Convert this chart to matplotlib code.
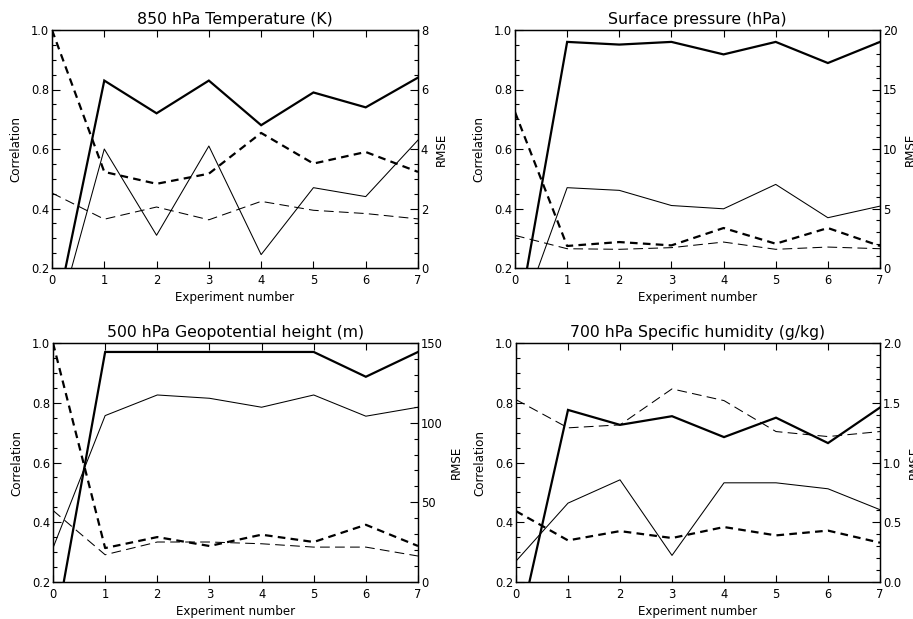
import matplotlib
matplotlib.use("Agg")
import matplotlib.pyplot as plt
from matplotlib.ticker import MultipleLocator, FixedLocator, FixedFormatter

plt.rcParams['font.family'] = ['DejaVu Sans']
plt.rcParams['lines.scale_dashes'] = False

experiments = [0, 1, 2, 3, 4, 5, 6, 7]

titles = ["850 hPa Temperature (K)", "Surface pressure (hPa)",
          "500 hPa Geopotential height (m)", "700 hPa Specific humidity (g/kg)"]

# 850 hPa temperature
t850_corr_thick = [-0.02, 0.83, 0.72, 0.83, 0.68, 0.79, 0.74, 0.84]
t850_corr_thin = [-0.04, 0.60, 0.31, 0.61, 0.245, 0.47, 0.44, 0.63]
t850_rmse_thick = [8.0, 3.23, 2.83, 3.17, 4.54, 3.51, 3.90, 3.23]
t850_rmse_thin = [2.52, 1.64, 2.05, 1.62, 2.24, 1.94, 1.83, 1.65]

# Surface pressure
ps_corr_thick = [-0.03, 0.96, 0.951, 0.96, 0.918, 0.96, 0.889, 0.96]
ps_corr_thin = [-0.015, 0.47, 0.461, 0.41, 0.399, 0.481, 0.369, 0.408]
ps_rmse_thick = [13.1, 1.85, 2.18, 1.90, 3.36, 2.04, 3.36, 1.85]
ps_rmse_thin = [2.74, 1.62, 1.57, 1.71, 2.18, 1.57, 1.76, 1.62]

# 500 hPa geopotential height
z500_corr_thick = [0.0, 0.97, 0.97, 0.97, 0.97, 0.97, 0.887, 0.97]
z500_corr_thin = [0.314, 0.757, 0.826, 0.815, 0.785, 0.826, 0.755, 0.785]
z500_rmse_thick = [150.0, 21.3, 28.2, 22.6, 29.7, 25.1, 35.9, 22.6]
z500_rmse_thin = [44.9, 17.1, 25.1, 25.1, 24.0, 21.9, 21.9, 16.3]

# 700 hPa specific humidity
q700_corr_thick = [0.0, 0.776, 0.726, 0.755, 0.685, 0.75, 0.665, 0.784]
q700_corr_thin = [0.270, 0.464, 0.542, 0.289, 0.532, 0.532, 0.512, 0.442]
q700_rmse_thick = [0.593, 0.348, 0.426, 0.368, 0.46, 0.39, 0.43, 0.329]
q700_rmse_thin = [1.526, 1.29, 1.315, 1.616, 1.518, 1.259, 1.217, 1.259]

corr_ticks = [0.2, 0.4, 0.6, 0.8, 1.0]
corr_ticklabels = ["0.2", "0.4", "0.6", "0.8", "1.0"]

rmse_ticks = [[0, 2, 4, 6, 8], [0, 5, 10, 15, 20], [0, 50, 100, 150], [0.0, 0.5, 1.0, 1.5, 2.0]]
rmse_ticklabels = [["0", "2", "4", "6", "8"], ["0", "5", "10", "15", "20"],
                   ["0", "50", "100", "150"], ["0.0", "0.5", "1.0", "1.5", "2.0"]]
rmse_minor = [0.5, 1, 10, 0.1]

panels = [
    (t850_corr_thick, t850_corr_thin, t850_rmse_thick, t850_rmse_thin),
    (ps_corr_thick, ps_corr_thin, ps_rmse_thick, ps_rmse_thin),
    (z500_corr_thick, z500_corr_thin, z500_rmse_thick, z500_rmse_thin),
    (q700_corr_thick, q700_corr_thin, q700_rmse_thick, q700_rmse_thin),
]

W, H = 913, 619
fig = plt.figure(figsize=(W / 100, H / 100), dpi=100)

# pixel boxes: left, right, top, bottom
boxes = [(52, 418, 30, 268), (515, 880, 30, 268), (53, 418, 343, 582), (516, 880, 343, 582)]

TICK_FS = 8.3
LAB_FS = 8.6
TITLE_FS = 11.3
thick_lw = 1.6
thin_lw = 0.75

for i, (box, data) in enumerate(zip(boxes, panels)):
    l, r, t, b = box
    ax = fig.add_axes([l / W, (H - b) / H, (r - l) / W, (b - t) / H])
    ax2 = ax.twinx()
    ct, cn, rt, rn = data

    ax.plot(experiments, ct, color='black', lw=thick_lw, solid_joinstyle='miter')
    ax.plot(experiments, cn, color='black', lw=thin_lw)
    ax2.plot(experiments, rt, color='black', lw=thick_lw, linestyle=(0, (5.5, 3.8)))
    ax2.plot(experiments, rn, color='black', lw=thin_lw, linestyle=(0, (7.0, 3.8)))

    ax.set_xlim(0, 7)
    ax.set_ylim(0.2, 1.0)
    ax2.set_ylim(rmse_ticks[i][0], rmse_ticks[i][-1])

    ax.xaxis.set_major_locator(FixedLocator(experiments))
    ax.set_xticklabels([str(e) for e in experiments])
    ax.yaxis.set_major_locator(FixedLocator(corr_ticks))
    ax.yaxis.set_major_formatter(FixedFormatter(corr_ticklabels))
    ax.yaxis.set_minor_locator(MultipleLocator(0.05))

    ax2.yaxis.set_major_locator(FixedLocator(rmse_ticks[i]))
    ax2.yaxis.set_major_formatter(FixedFormatter(rmse_ticklabels[i]))
    ax2.yaxis.set_minor_locator(MultipleLocator(rmse_minor[i]))

    ax.tick_params(axis='x', which='major', direction='in', top=True, bottom=True,
                   length=5, width=0.8, labelsize=TICK_FS, pad=4)
    ax.tick_params(axis='y', which='major', direction='in', left=True, right=False,
                   length=6, width=0.8, labelsize=TICK_FS, pad=2)
    ax.tick_params(axis='y', which='minor', direction='in', left=True, right=False,
                   length=3, width=0.8)
    ax2.tick_params(axis='y', which='major', direction='in', right=True, left=False,
                    length=6, width=0.8, labelsize=TICK_FS, pad=2)
    ax2.tick_params(axis='y', which='minor', direction='in', right=True, left=False,
                    length=3, width=0.8)

    for s in list(ax.spines.values()) + list(ax2.spines.values()):
        s.set_linewidth(0.9)

    ax.set_xlabel("Experiment number", fontsize=LAB_FS, labelpad=3)
    ax.set_ylabel("Correlation", fontsize=LAB_FS, labelpad=6)
    ax2.set_ylabel("RMSE", fontsize=LAB_FS, labelpad=5)
    ax.set_title(titles[i], fontsize=TITLE_FS, pad=4)

fig.savefig("out.png", dpi=100)
